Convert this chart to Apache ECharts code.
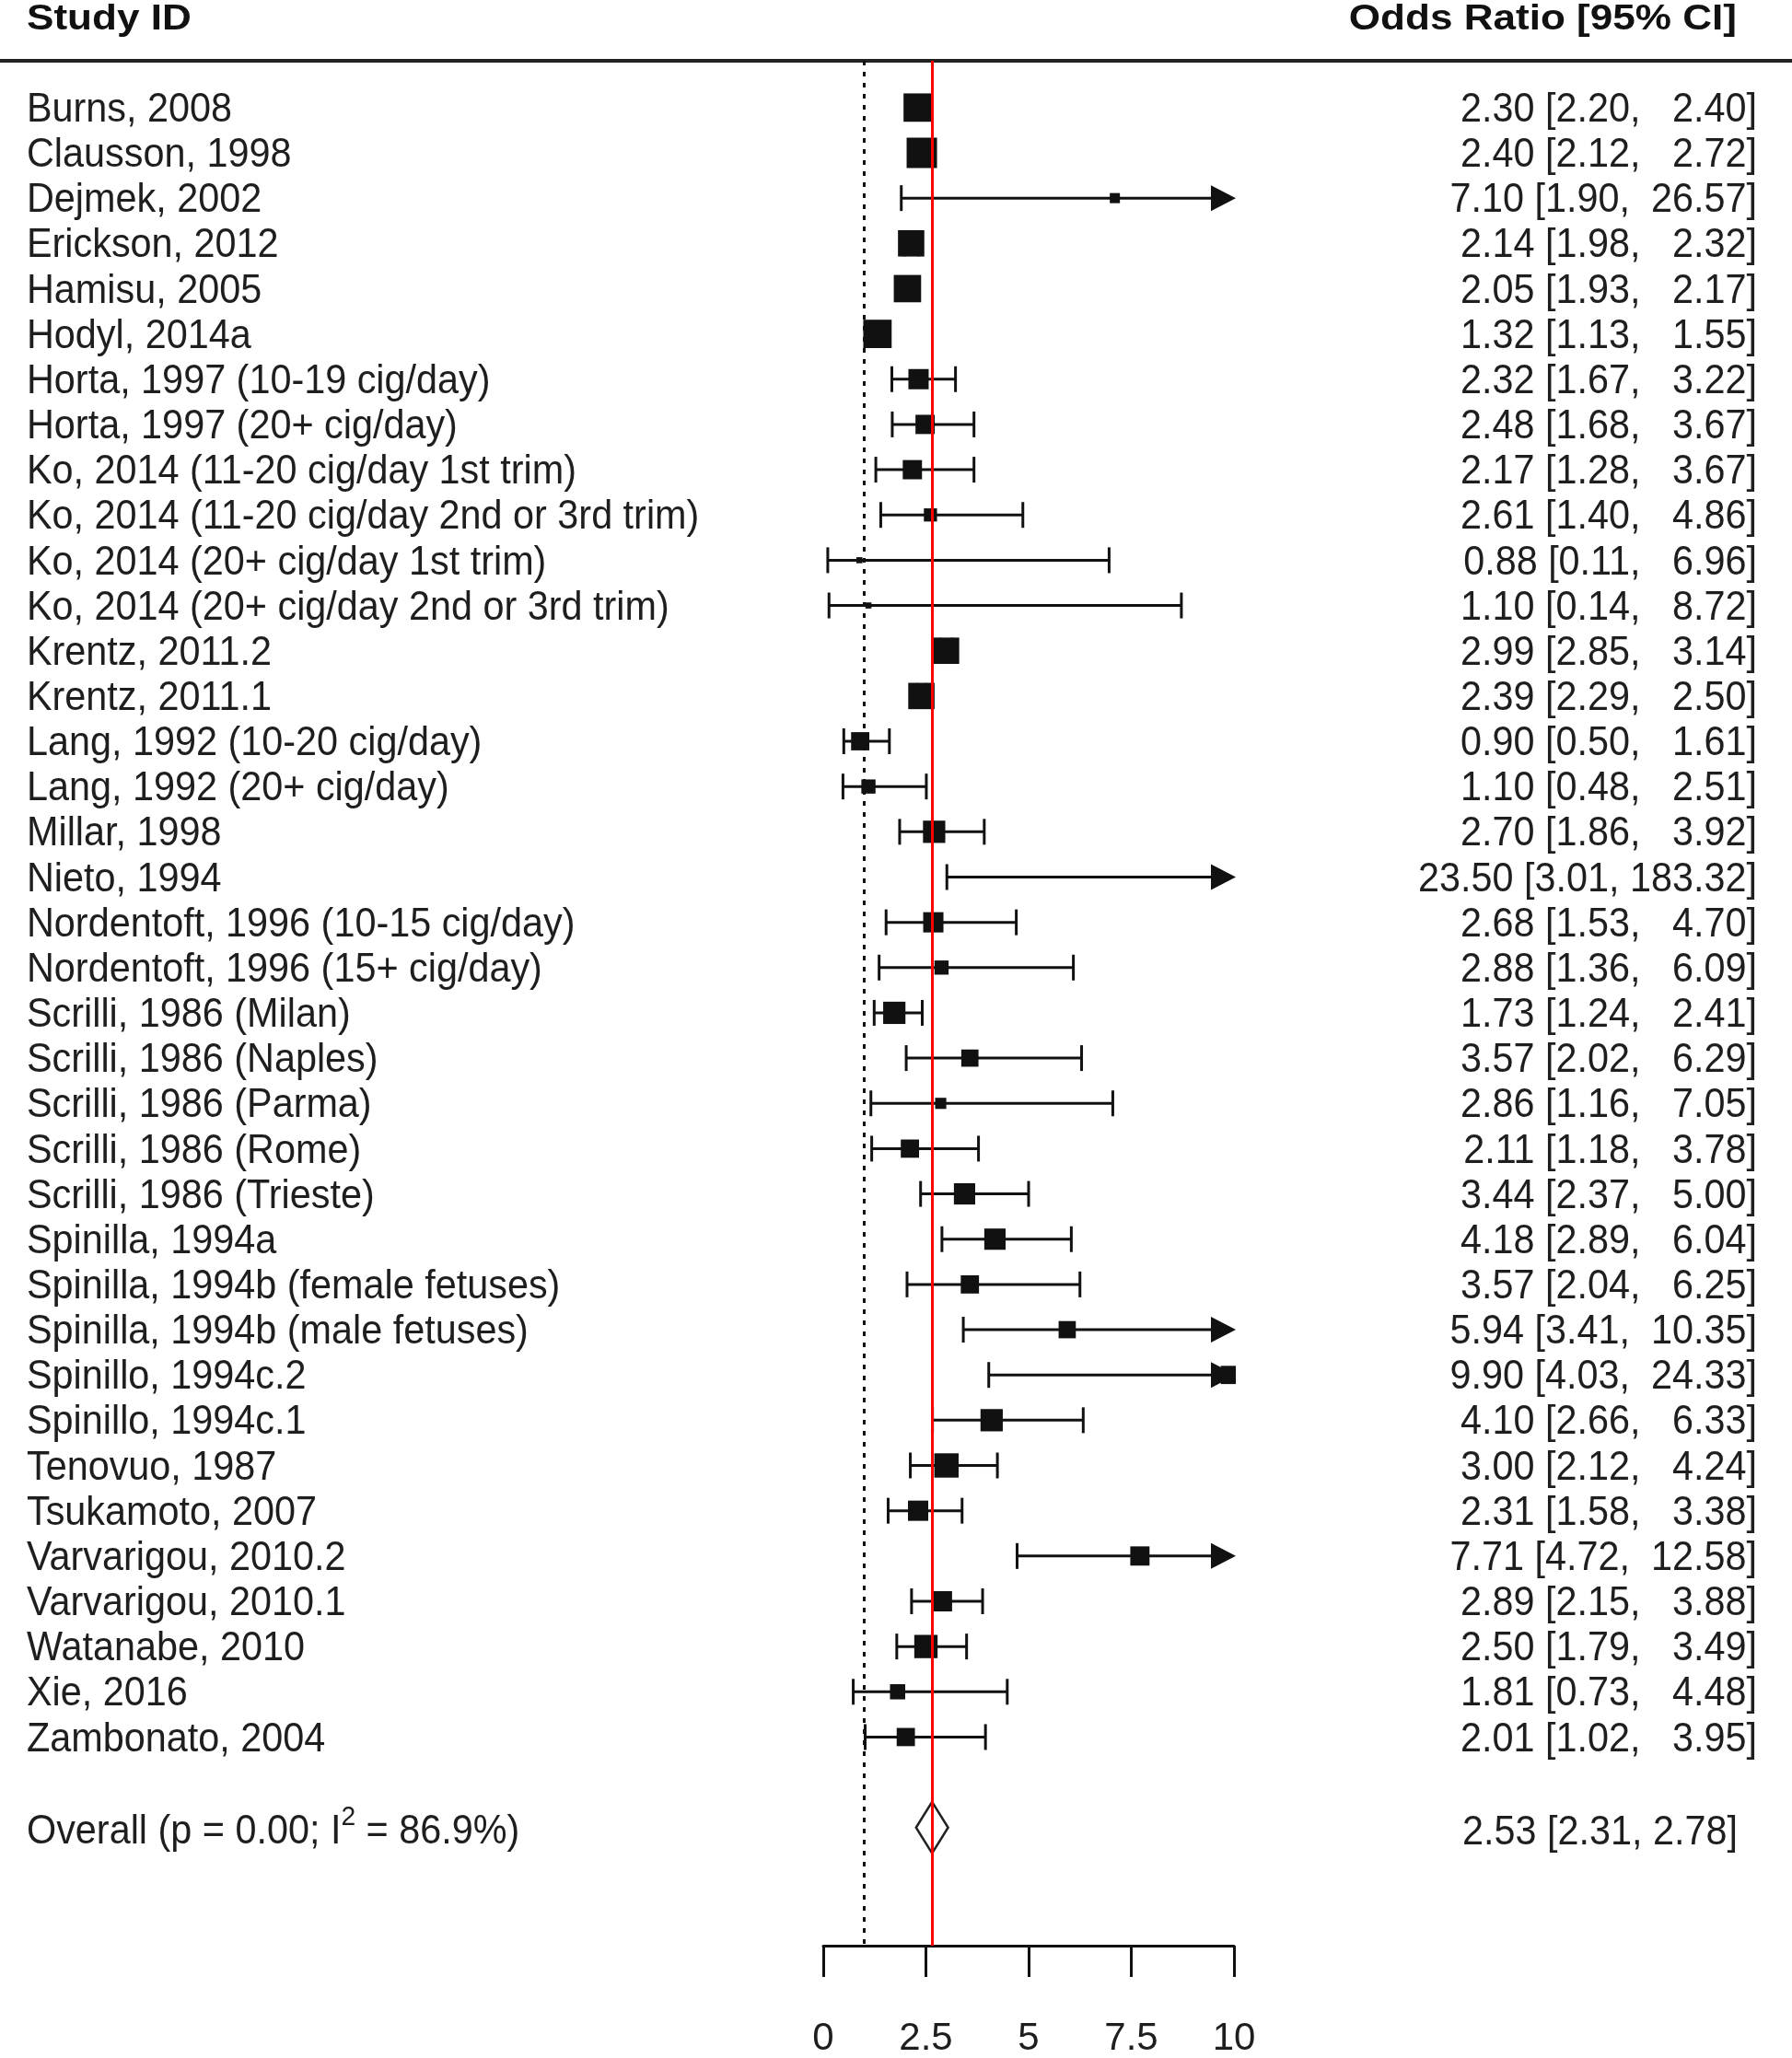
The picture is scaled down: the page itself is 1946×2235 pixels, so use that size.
<!DOCTYPE html>
<html><head><meta charset="utf-8">
<script src="https://cdn.jsdelivr.net/npm/echarts@6/dist/echarts.min.js"></script>
<style>html,body{margin:0;padding:0;background:#fff}#c{width:1946px;height:2235px}</style>
</head><body><div id="c"></div><script>
// ---------- data ----------
const studies = [
  "Burns, 2008", "Clausson, 1998", "Dejmek, 2002", "Erickson, 2012", "Hamisu, 2005",
  "Hodyl, 2014a", "Horta, 1997 (10-19 cig/day)", "Horta, 1997 (20+ cig/day)",
  "Ko, 2014 (11-20 cig/day 1st trim)", "Ko, 2014 (11-20 cig/day 2nd or 3rd trim)",
  "Ko, 2014 (20+ cig/day 1st trim)", "Ko, 2014 (20+ cig/day 2nd or 3rd trim)",
  "Krentz, 2011.2", "Krentz, 2011.1", "Lang, 1992 (10-20 cig/day)", "Lang, 1992 (20+ cig/day)",
  "Millar, 1998", "Nieto, 1994", "Nordentoft, 1996 (10-15 cig/day)", "Nordentoft, 1996 (15+ cig/day)",
  "Scrilli, 1986 (Milan)", "Scrilli, 1986 (Naples)", "Scrilli, 1986 (Parma)", "Scrilli, 1986 (Rome)",
  "Scrilli, 1986 (Trieste)", "Spinilla, 1994a", "Spinilla, 1994b (female fetuses)",
  "Spinilla, 1994b (male fetuses)", "Spinillo, 1994c.2", "Spinillo, 1994c.1", "Tenovuo, 1987",
  "Tsukamoto, 2007", "Varvarigou, 2010.2", "Varvarigou, 2010.1", "Watanabe, 2010", "Xie, 2016",
  "Zambonato, 2004"
];
const orEst  = [2.30,2.40,7.10,2.14,2.05,1.32,2.32,2.48,2.17,2.61,0.88,1.10,2.99,2.39,0.90,1.10,2.70,23.50,2.68,2.88,1.73,3.57,2.86,2.11,3.44,4.18,3.57,5.94,9.90,4.10,3.00,2.31,7.71,2.89,2.50,1.81,2.01];
const ciLow  = [2.20,2.12,1.90,1.98,1.93,1.13,1.67,1.68,1.28,1.40,0.11,0.14,2.85,2.29,0.50,0.48,1.86,3.01,1.53,1.36,1.24,2.02,1.16,1.18,2.37,2.89,2.04,3.41,4.03,2.66,2.12,1.58,4.72,2.15,1.79,0.73,1.02];
const ciHigh = [2.40,2.72,26.57,2.32,2.17,1.55,3.22,3.67,3.67,4.86,6.96,8.72,3.14,2.50,1.61,2.51,3.92,183.32,4.70,6.09,2.41,6.29,7.05,3.78,5.00,6.04,6.25,10.35,24.33,6.33,4.24,3.38,12.58,3.88,3.49,4.48,3.95];
// study weights (relative)
const weights = [2.8,3.0,1.0,2.6,2.7,2.8,2.0,1.9,1.9,1.3,0.6,0.6,2.6,2.6,1.8,1.4,2.2,0.5,2.0,1.4,2.2,1.7,1.1,1.8,2.1,2.1,1.8,1.7,1.8,2.2,2.4,2.0,1.9,2.0,2.3,1.5,1.8];
const overallLabel = "Overall (p = 0.00; I{sup|2} = 86.9%)";
const overallPrinted = [2.53, 2.31, 2.78];   // est, lo, hi as printed
const overallDrawn   = [2.65, 2.26, 3.04];   // est, lo, hi as drawn (diamond / red line)
const nullValue = 1;
const xTicks = [0, 2.5, 5, 7.5, 10];
const headerLeft = "Study ID";
const headerRight = "Odds Ratio [95% CI]";

// ---------- layout ----------
const OVERALL_ROW = 38;
const X_MIN = xTicks[0], X_MAX = xTicks[xTicks.length - 1];
const INK = '#111';
const TXT = '#1e1e1e';
const FONT = '"Liberation Sans", Arial, Helvetica, sans-serif';
const LEFT_X = 29, RIGHT_X = 1908, OVERALL_RIGHT_X = 1887;
const TXT_SCALE = 0.94;
const TXT_DY = 3;
const BOX_PX = 11;

function fmt(v, w) { return v.toFixed(2).padStart(w, ' '); }
function orLabel(e, l, h) { return fmt(e, 5).trim() + ' [' + fmt(l, 4) + ', ' + fmt(h, 6) + ']'; }

function textEl(x, y, text, align) {
  return {
    type: 'text', x: x, y: y, scaleX: TXT_SCALE,
    style: { text: text, x: 0, y: 0, fill: TXT, fontSize: 44, fontFamily: FONT,
             align: align, verticalAlign: 'middle' }
  };
}

function renderRow(params, api) {
  const i = api.value(0), est = api.value(1), lo = api.value(2), hi = api.value(3), w = api.value(4);
  const cs = params.coordSys;
  const pLo = api.coord([lo, i]);
  const y = pLo[1];
  const capped = hi > X_MAX;
  const pHi = api.coord([Math.min(hi, X_MAX), i]);
  const ch = [];
  const lineEnd = capped ? pHi[0] - 20 : pHi[0];
  ch.push({ type: 'line', shape: { x1: pLo[0], y1: y, x2: lineEnd, y2: y }, style: { stroke: INK, lineWidth: 3 } });
  ch.push({ type: 'line', shape: { x1: pLo[0], y1: y - 14, x2: pLo[0], y2: y + 14 }, style: { stroke: INK, lineWidth: 3 } });
  if (!capped) {
    ch.push({ type: 'line', shape: { x1: pHi[0], y1: y - 14, x2: pHi[0], y2: y + 14 }, style: { stroke: INK, lineWidth: 3 } });
  } else {
    ch.push({ type: 'polygon', shape: { points: [[pHi[0] - 25, y - 14], [pHi[0] + 2, y], [pHi[0] - 25, y + 14]] }, style: { fill: INK } });
  }
  if (est <= X_MAX) {
    const pE = api.coord([est, i]);
    const s = w * BOX_PX;
    const r = echarts.graphic.clipRectByRect(
      { x: pE[0] - s / 2, y: y - s / 2, width: s, height: s },
      { x: cs.x - 2, y: cs.y, width: cs.width + 4, height: cs.height });
    if (r) ch.push({ type: 'rect', shape: r, style: { fill: INK } });
  }
  ch.push(textEl(LEFT_X, y + TXT_DY, studies[i], 'left'));
  ch.push(textEl(RIGHT_X, y + TXT_DY, orLabel(orEst[i], ciLow[i], ciHigh[i]), 'right'));
  return { type: 'group', children: ch };
}

function renderOverall(params, api) {
  const i = api.value(0), est = api.value(1), lo = api.value(2), hi = api.value(3);
  const pE = api.coord([est, i]), pL = api.coord([lo, i]), pH = api.coord([hi, i]);
  const y = pE[1];
  const h = 28;
  return { type: 'group', children: [
    { type: 'polygon', shape: { points: [[pL[0], y], [pE[0], y - h], [pH[0], y], [pE[0], y + h]] },
      style: { fill: 'none', stroke: '#222', lineWidth: 2.5 } },
    { type: 'text', x: LEFT_X, y: y + TXT_DY + 2, scaleX: TXT_SCALE,
      style: { text: overallLabel, x: 0, y: 0, fill: TXT, fontSize: 44, fontFamily: FONT,
               align: 'left', verticalAlign: 'middle',
               rich: { sup: { fontSize: 30, fontFamily: FONT, fill: TXT, verticalAlign: 'top', padding: [0, 0, 33, 0] } } } },
    textEl(OVERALL_RIGHT_X, y + TXT_DY + 3,
      overallPrinted[0].toFixed(2) + ' [' + overallPrinted[1].toFixed(2) + ', ' + overallPrinted[2].toFixed(2) + ']', 'right')
  ]};
}

const chart = echarts.init(document.getElementById('c'), null, { renderer: 'canvas', width: 1946, height: 2235 });
chart.setOption({
  animation: false,
  backgroundColor: '#ffffff',
  grid: { left: 894, right: 606, top: 66, bottom: 116, containLabel: false },
  xAxis: {
    type: 'value', min: X_MIN, max: X_MAX, interval: 2.5, position: 'bottom',
    axisLine: { show: true, onZero: false, lineStyle: { color: INK, width: 3 } },
    axisTick: { show: true, length: 34, lineStyle: { color: INK, width: 3 } },
    axisLabel: { fontSize: 42, fontFamily: FONT, color: TXT, margin: 80,
                 formatter: v => String(v) },
    splitLine: { show: false }
  },
  yAxis: { type: 'value', inverse: true, min: -1.034, max: 40.609, show: false },
  graphic: [
    { type: 'rect', left: 0, top: 64, shape: { width: 1946, height: 4 }, style: { fill: '#222' } },
    { type: 'text', x: 29, y: 22, scaleX: 1.16,
      style: { text: headerLeft, fontSize: 38, fontWeight: 'bold', fontFamily: FONT, fill: '#111', align: 'left', verticalAlign: 'middle' } },
    { type: 'text', x: 1886, y: 22, scaleX: 1.16,
      style: { text: headerRight, fontSize: 38, fontWeight: 'bold', fontFamily: FONT, fill: '#111', align: 'right', verticalAlign: 'middle' } }
  ],
  series: [
    {
      type: 'custom', z: 2, clip: false,
      renderItem: renderRow,
      encode: { x: [1, 2, 3], y: 0 },
      data: studies.map((s, i) => [i, orEst[i], ciLow[i], ciHigh[i], weights[i]])
    },
    {
      type: 'custom', z: 3, clip: false,
      renderItem: renderOverall,
      encode: { x: [1, 2, 3], y: 0 },
      data: [[OVERALL_ROW, overallDrawn[0], overallDrawn[1], overallDrawn[2]]],
      markLine: {
        silent: true, symbol: 'none', label: { show: false },
        data: [
          { xAxis: nullValue, lineStyle: { color: INK, width: 3, type: [5, 7] } },
          { xAxis: overallDrawn[0], lineStyle: { color: '#ff0000', width: 3, type: 'solid' } }
        ]
      }
    }
  ]
});
</script></body></html>
